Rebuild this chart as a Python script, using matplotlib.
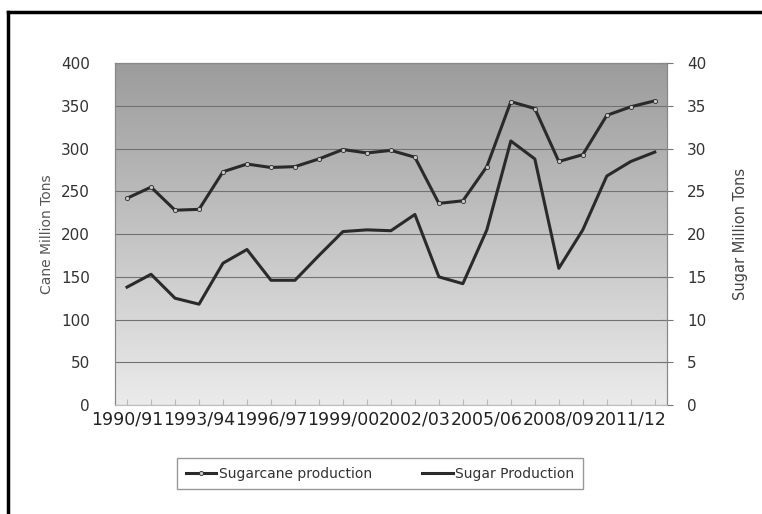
import numpy as np
import matplotlib.pyplot as plt
from matplotlib.lines import Line2D

seasons = ['1990/91', '1991/92', '1992/93', '1993/94', '1994/95', '1995/96',
           '1996/97', '1997/98', '1998/99', '1999/00', '2000/01', '2001/02',
           '2002/03', '2003/04', '2004/05', '2005/06', '2006/07', '2007/08',
           '2008/09', '2009/10', '2010/11', '2011/12', '2012/13']
cane = [242, 255, 228, 229, 273, 282, 278, 279, 288, 299, 295, 298,
        290, 236, 239, 279, 355, 347, 285, 293, 339, 349, 356]
sugar = [13.8, 15.3, 12.5, 11.8, 16.6, 18.2, 14.6, 14.6, 17.5, 20.3, 20.5, 20.4,
         22.3, 15.0, 14.2, 20.5, 30.9, 28.8, 16.0, 20.5, 26.8, 28.5, 29.6]
cane_ticks = [0, 50, 100, 150, 200, 250, 300, 350, 400]
sugar_ticks = [0, 5, 10, 15, 20, 25, 30, 35, 40]

fig = plt.figure(figsize=(7.62, 5.14), dpi=100)
ax = fig.add_axes([0.151, 0.212, 0.724, 0.665])
ax2 = ax.twinx()

x = np.arange(len(seasons))

# grey gradient plot area, dark at the top
grad = np.linspace(0, 1, 256).reshape(-1, 1)
ax.imshow(grad, extent=[0, 1, 0, 1], transform=ax.transAxes, aspect='auto',
          cmap=plt.matplotlib.colors.LinearSegmentedColormap.from_list(
              'bg', ['#ebebeb', '#9c9c9c']),
          origin='lower', zorder=0)

ax.set_xlim(-0.5, len(seasons) - 0.5)
ax.set_ylim(0, 400)
ax2.set_ylim(0, 40)
ax.set_yticks(cane_ticks)
ax2.set_yticks(sugar_ticks)
ax.yaxis.grid(True, color='#727272', lw=0.8, zorder=1)
ax.set_axisbelow(False)

ax.plot(x, cane, color='#2a2a2a', lw=2.2, marker='o', ms=3,
        mfc='#c8c8c8', mec='#2a2a2a', mew=0.6, zorder=3,
        label='Sugarcane production')
ax2.plot(x, sugar, color='#2a2a2a', lw=2.2, zorder=3, label='Sugar Production')

ax.set_xticks(x)
ax.set_xticklabels([s if i % 3 == 0 else '' for i, s in enumerate(seasons)],
                   fontsize=12.5, color='#222222')
ax.tick_params(axis='x', direction='in', length=4, color='#bbbbbb', pad=4)
ax.tick_params(axis='y', length=0, pad=18, labelsize=11, labelcolor='#333333')
ax2.tick_params(axis='y', direction='inout', length=9, color='#777777',
                pad=10, labelsize=11, labelcolor='#333333')

for a in (ax, ax2):
    for side in ('left', 'top', 'right'):
        a.spines[side].set_color('#888888')
    a.spines['bottom'].set_color('#c0c0c0')

ax.set_ylabel('Cane Million Tons', fontsize=10, color='#555555')
ax2.set_ylabel('Sugar Million Tons', fontsize=10.5, color='#444444', rotation=90)
ax.yaxis.set_label_coords(-0.11, 0.5)
ax2.yaxis.set_label_coords(1.12, 0.5)

h1, l1 = ax.get_legend_handles_labels()
h2, l2 = ax2.get_legend_handles_labels()
leg = fig.legend(h1 + h2, l1 + l2, ncol=2, loc='upper center',
                 bbox_to_anchor=(380 / 762, 0.108), fontsize=10, frameon=True,
                 fancybox=False, edgecolor='#808080', handlelength=2.2,
                 columnspacing=3.6, borderpad=0.6, handletextpad=0.2,
                 borderaxespad=0)
leg.get_frame().set_boxstyle('square', pad=0.0)
for t in leg.get_texts():
    t.set_color('#333333')

# outer border of the figure
fig.add_artist(Line2D([8 / 762, 8 / 762], [0, 1 - 12 / 514], color='black', lw=2.5))
fig.add_artist(Line2D([8 / 762, 1], [1 - 12 / 514, 1 - 12 / 514], color='black', lw=2.5))

fig.savefig('out.png', dpi=100)
